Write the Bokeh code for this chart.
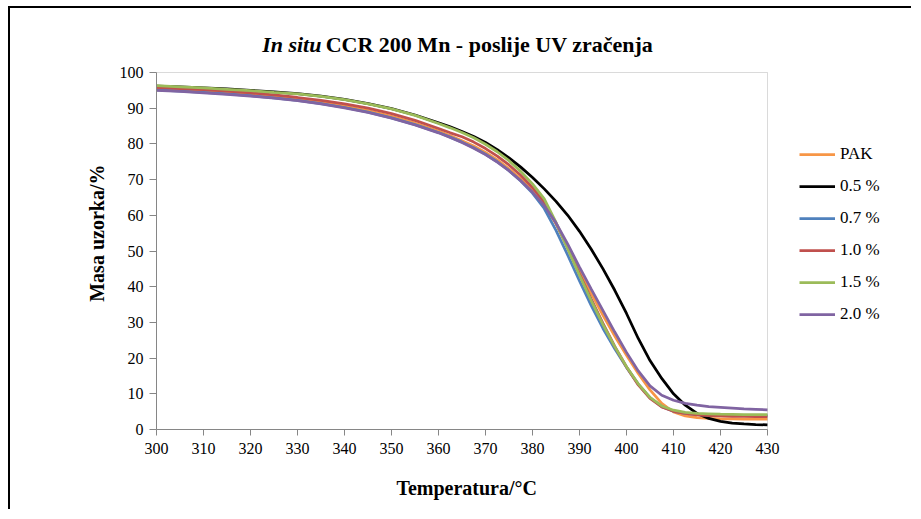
import math
from bokeh.plotting import figure
from bokeh.models import (Range1d, FixedTicker, Label, Legend, LegendItem, BoxAnnotation,
                          LinearAxis)
from bokeh.embed import file_html
from bokeh.resources import INLINE

temps = [300, 305, 310, 315, 320, 325, 330, 335, 340, 345, 350, 355, 360,
         362.5, 365, 367.5, 370, 372.5, 375, 377.5, 380, 382.5, 385, 387.5,
         390, 392.5, 395, 397.5, 400, 402.5, 405, 407.5, 410, 412.5, 415,
         417.5, 420, 422.5, 425, 427.5, 430]

pak = [95.5, 95.2, 94.8, 94.4, 93.9, 93.3, 92.6, 91.7, 90.6, 89.3, 87.7, 85.8, 83.6,
       82.3, 80.9, 79.4, 77.6, 75.5, 73.0, 70.2, 66.9, 62.9, 57.6, 51.3,
       44.7, 38.2, 32.0, 26.2, 20.8, 15.7, 11.1, 7.3, 4.9, 3.8, 3.3,
       3.1, 3.0, 2.95, 2.9, 2.9, 2.9]
c05 = [96.2, 96.0, 95.7, 95.4, 95.0, 94.6, 94.1, 93.4, 92.5, 91.3, 89.9, 88.1, 85.9,
       84.8, 83.5, 82.1, 80.4, 78.4, 76.1, 73.5, 70.6, 67.4, 63.9, 60.0,
       55.5, 50.5, 45.0, 39.0, 32.5, 25.5, 19.3, 14.3, 10.0, 6.8, 4.5,
       3.1, 2.3, 1.8, 1.55, 1.4, 1.3]
c07 = [95.1, 94.8, 94.4, 94.0, 93.5, 92.9, 92.2, 91.3, 90.2, 88.9, 87.3, 85.4, 83.2,
       81.9, 80.5, 78.9, 77.1, 75.0, 72.5, 69.6, 66.2, 61.9, 55.8, 48.8,
       41.6, 34.7, 28.3, 22.6, 17.4, 12.7, 8.9, 6.4, 5.1, 4.5, 4.2,
       4.05, 4.0, 3.95, 3.9, 3.9, 3.9]
c10 = [95.8, 95.5, 95.2, 94.8, 94.3, 93.7, 93.0, 92.2, 91.2, 90.0, 88.5, 86.6, 84.3,
       83.1, 82.0, 80.5, 78.7, 76.6, 74.1, 71.2, 67.8, 63.7, 57.8, 50.8,
       43.6, 36.5, 29.7, 23.3, 17.5, 12.5, 8.7, 6.3, 5.1, 4.5, 4.1,
       3.9, 3.8, 3.7, 3.65, 3.6, 3.6]
c15 = [96.3, 96.0, 95.7, 95.3, 94.9, 94.4, 94.0, 93.3, 92.4, 91.2, 89.8, 88.0, 85.7,
       84.5, 83.2, 81.7, 79.9, 77.8, 75.3, 72.3, 68.8, 64.6, 58.0, 50.6,
       43.2, 36.1, 29.4, 23.2, 17.6, 12.8, 9.0, 6.6, 5.4, 4.8, 4.5,
       4.4, 4.3, 4.25, 4.2, 4.2, 4.2]
c20 = [95.0, 94.7, 94.3, 93.9, 93.4, 92.8, 92.1, 91.2, 90.1, 88.8, 87.2, 85.3, 83.1,
       81.8, 80.4, 78.8, 77.0, 74.9, 72.5, 69.7, 66.5, 62.7, 57.9, 51.9,
       45.5, 39.3, 33.3, 27.3, 21.6, 16.4, 12.2, 9.6, 8.2, 7.3, 6.8,
       6.4, 6.2, 6.0, 5.8, 5.65, 5.5]

series_names = ["PAK", "0.5 %", "0.7 %", "1.0 %", "1.5 %", "2.0 %"]
series_values = [pak, c05, c07, c10, c15, c20]
series_colors = ["#F79646", "#000000", "#4F81BD", "#C0504D", "#9BBB59", "#8064A2"]

x_min, x_max = 300, 430
y_min, y_max = 0, 100
x_ticks = list(range(300, 431, 10))
y_ticks = list(range(0, 101, 10))

title_italic = "In situ"
title_rest = "CCR 200 Mn - poslije  UV zračenja"
x_title = "Temperatura/°C"
y_title = "Masa uzorka/%"
x_title_at = 366   # data position of the x-axis title centre
y_title_at = 55    # data position of the y-axis title centre

FONT = "Liberation Serif"
GRAY = "#868686"

# layout (pixels): plot box 611 x 357, with extra room right/top for legend & title
W, H = 903, 503
LEFT, BOTTOM = 146, 82
BOX_W, BOX_H = 611, 357
FRAME_W = W - LEFT
FRAME_H = H - BOTTOM
x_end = x_min + (x_max - x_min) * FRAME_W / BOX_W
y_end = y_min + (y_max - y_min) * FRAME_H / BOX_H

p = figure(width=W, height=H, output_backend="svg", toolbar_location=None,
           x_range=Range1d(x_min, x_end), y_range=Range1d(y_min, y_end),
           min_border_left=LEFT, min_border_right=0,
           min_border_top=0, min_border_bottom=BOTTOM)
p.styles = {"margin-left": "8px", "margin-top": "6px",
            "border-left": "2px solid black", "border-top": "2px solid black"}
p.background_fill_color = "white"
p.border_fill_color = "white"
p.outline_line_color = None
p.grid.visible = False

for ax, ticks, bnd in ((p.xaxis, x_ticks, (x_min, x_max)), (p.yaxis, y_ticks, (y_min, y_max))):
    ax.ticker = FixedTicker(ticks=ticks)
    ax.bounds = bnd
    ax.axis_line_color = GRAY
    ax.major_tick_line_color = GRAY
    ax.minor_tick_line_color = None
    ax.major_tick_in = 0
    ax.major_label_text_font = FONT
    ax.major_label_text_font_size = "16px"
    ax.major_label_text_color = "black"
p.xaxis.major_tick_out = 6
p.xaxis.major_label_standoff = 7
p.yaxis.major_tick_out = 7
p.yaxis.major_label_standoff = 6


def title_axis(at, text, **kw):
    ax = LinearAxis(ticker=FixedTicker(ticks=[at]), major_label_overrides={at: text},
                    axis_line_color=None, major_tick_line_color=None,
                    minor_tick_line_color=None, major_tick_in=0, major_tick_out=0,
                    major_label_text_font=FONT, major_label_text_font_size="20px",
                    major_label_text_font_style="bold", major_label_text_color="black", **kw)
    return ax


p.add_layout(title_axis(x_title_at, x_title, major_label_standoff=20), "below")
p.add_layout(title_axis(y_title_at, y_title, major_label_standoff=8,
                        major_label_orientation="vertical"), "left")

# plot-area box (top and right edges)
p.add_layout(BoxAnnotation(left=x_min, right=x_max, bottom=y_min, top=y_max,
                           fill_alpha=0, line_color=GRAY, line_width=1))

renderers = []
for name, vals, col in zip(series_names, series_values, series_colors):
    r = p.line(temps, vals, line_color=col, line_width=2.75)
    renderers.append(r)

legend = Legend(items=[LegendItem(label=n, renderers=[r]) for n, r in zip(series_names, renderers)],
                location=(643, 105), orientation="vertical",
                glyph_width=36, glyph_height=20, label_height=20, spacing=12,
                label_standoff=5, padding=0, margin=0,
                border_line_alpha=0, background_fill_alpha=0,
                label_text_font=FONT, label_text_font_size="17px", label_text_color="black")
p.add_layout(legend, "center")

p.add_layout(Label(x=335.1, y=107.9, text=title_italic, text_align="right", text_baseline="middle",
                   text_font=FONT, text_font_size="22px", text_font_style="bold italic", text_color="black"))
p.add_layout(Label(x=336.0, y=107.9, text=title_rest, text_align="left", text_baseline="middle",
                   text_font=FONT, text_font_size="22px", text_font_style="bold", text_color="black"))

open("out.html", "w").write(file_html(p, INLINE))
